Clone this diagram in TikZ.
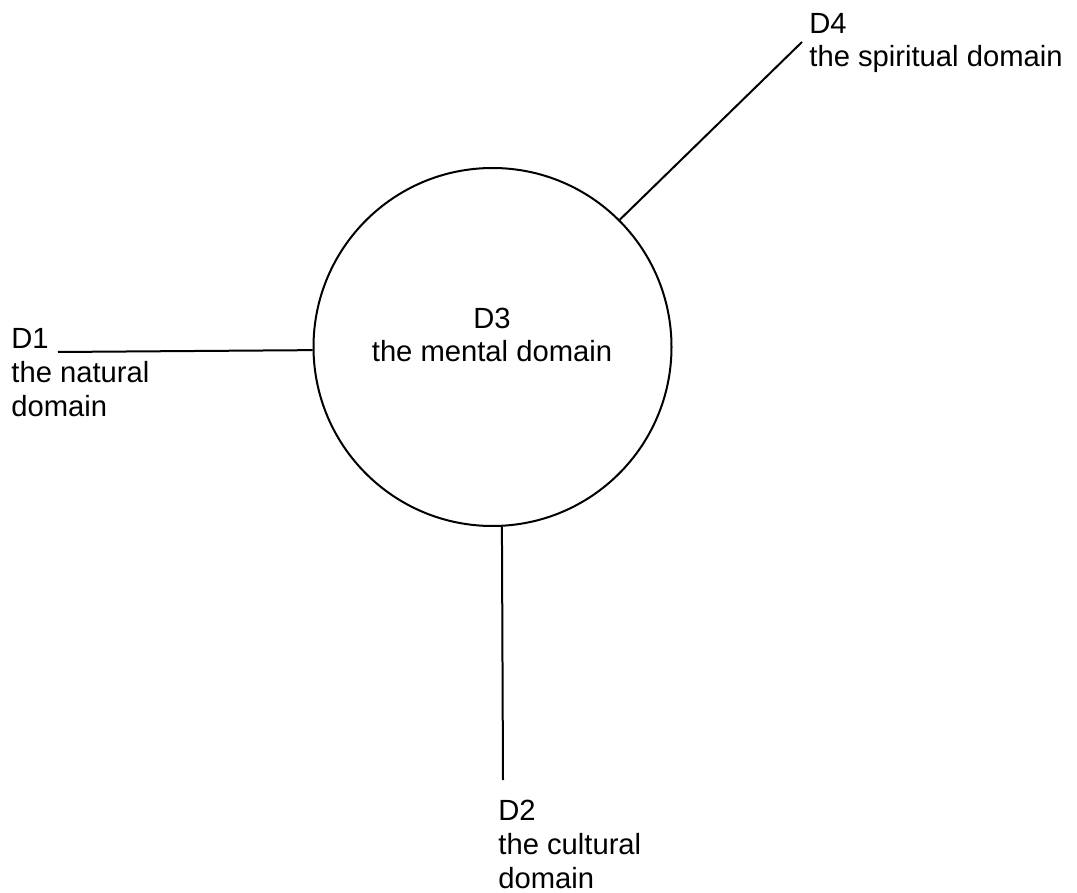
\documentclass[tikz,border=0pt]{standalone}
\usepackage{fontspec}
\setmainfont{Liberation Sans}
\begin{document}
\begin{tikzpicture}[x=0.5pt,y=-0.5pt,
  domaincircle/.style={circle,draw,line width=1pt,minimum size=179pt,inner sep=0pt},
  domaintext/.style={inner sep=0pt,align=left,font=\fontsize{14.6pt}{16.8pt}\selectfont},
  link/.style={line width=1pt}]
\useasboundingbox (0,0) rectangle (1077,893);
\node[domaincircle] (d3) at (492.5,347) {};
\node[domaintext,align=center,anchor=base] (d3label) at (492,362) {D3\\the mental domain};
\node[domaintext,anchor=base west] (d1) at (11,416) {D1\\the natural\\domain};
\node[domaintext,anchor=base west] (d2) at (498,888) {D2\\the cultural\\domain};
\node[domaintext,anchor=base west] (d4) at (809,67) {D4\\the spiritual domain};
\coordinate (e1) at (58,352);
\coordinate (e2) at (503,780);
\coordinate (e4) at (802,42);
\draw[link] (e1) -- (d3.181);
\draw[link] (d3.-87) -- (e2);
\draw[link] (d3.45) -- (e4);
\end{tikzpicture}
\end{document}
